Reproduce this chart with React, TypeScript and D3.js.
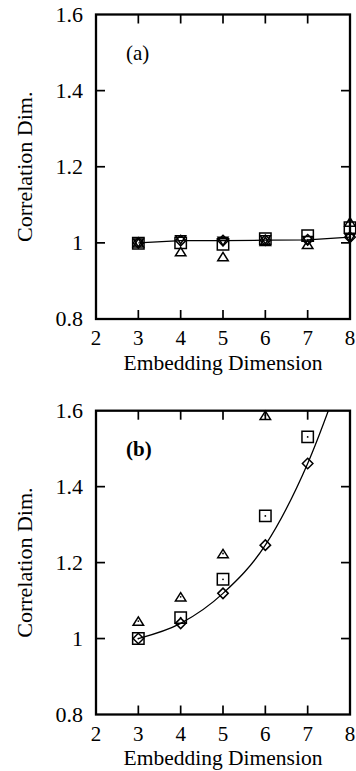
import React from 'react';
import * as d3 from 'd3';

const dims = [3, 4, 5, 6, 7, 8];
const xTickValues = [2, 3, 4, 5, 6, 7, 8];
const yTickValues = [0.8, 1.0, 1.2, 1.4, 1.6];
const yTickLabels = ['0.8', '1', '1.2', '1.4', '1.6'];

// Panel (a)
const aDiamond = [1.0, 1.006, 1.006, 1.007, 1.008, 1.015];
const aSquare = [0.999, 1.0, 0.996, 1.011, 1.019, 1.04];
const aTriUp = [1.0, 0.977, 0.964, 1.004, 0.996, 1.055];
const aTriDown = [1.0, 1.008, 1.004, 1.008, 1.006, 1.012];

// Panel (b)
const bDiamond = [1.0, 1.04, 1.119, 1.246, 1.461, 1.76];
const bSquare = [1.0, 1.055, 1.156, 1.323, 1.531, null];
const bTriUp = [1.046, 1.11, 1.224, 1.588, null, null];

const FONT = '"Liberation Serif", "Times New Roman", serif';

const diamondType = {
  draw(ctx: any, size: number) {
    const r = Math.sqrt(size) / 2;
    ctx.moveTo(0, -r); ctx.lineTo(r, 0); ctx.lineTo(0, r); ctx.lineTo(-r, 0); ctx.closePath();
  },
};
const squareType = {
  draw(ctx: any, size: number) {
    const r = Math.sqrt(size) / 2;
    ctx.rect(-r, -r, 2 * r, 2 * r);
  },
};
const triUpType = {
  draw(ctx: any, size: number) {
    const r = Math.sqrt(size) / 2;
    ctx.moveTo(0, -0.8 * r); ctx.lineTo(r, 0.8 * r); ctx.lineTo(-r, 0.8 * r); ctx.closePath();
  },
};
const triDownType = {
  draw(ctx: any, size: number) {
    const r = Math.sqrt(size) / 2;
    ctx.moveTo(0, 0.8 * r); ctx.lineTo(r, -0.8 * r); ctx.lineTo(-r, -0.8 * r); ctx.closePath();
  },
};

type Series = { values: (number | null)[]; type: any; size: number; dot?: boolean };

function Panel({ id, top, bottom, label, bold, line, curve, series }: {
  id: string; top: number; bottom: number; label: string; bold: boolean;
  line: number[]; curve: any; series: Series[];
}) {
  const x = d3.scaleLinear().domain([2, 8]).range([96, 350]);
  const y = d3.scaleLinear().domain([0.8, 1.6]).range([bottom, top]);
  const lineGen = d3.line<number>()
    .x((_, i) => x(dims[i]))
    .y((d) => y(d))
    .curve(curve);
  const tickLen = 9;
  const innerX = xTickValues.slice(1, -1);
  const innerY = yTickValues.slice(1, -1);
  return (
    <g>
      <defs>
        <clipPath id={id}>
          <rect x={x(2)} y={y(1.6)} width={x(8) - x(2)} height={y(0.8) - y(1.6)} />
        </clipPath>
      </defs>
      {innerX.map((t) => (
        <g key={'xt' + t} stroke="#000" strokeWidth={1.7}>
          <line x1={x(t)} x2={x(t)} y1={y(0.8)} y2={y(0.8) - tickLen} />
          <line x1={x(t)} x2={x(t)} y1={y(1.6)} y2={y(1.6) + tickLen} />
        </g>
      ))}
      {innerY.map((t) => (
        <g key={'yt' + t} stroke="#000" strokeWidth={1.7}>
          <line x1={x(2)} x2={x(2) + tickLen} y1={y(t)} y2={y(t)} />
          <line x1={x(8)} x2={x(8) - tickLen} y1={y(t)} y2={y(t)} />
        </g>
      ))}
      <path d={lineGen(line) || ''} fill="none" stroke="#000" strokeWidth={1.3} clipPath={`url(#${id})`} />
      {series.map((s, si) => {
        const gen = d3.symbol().type(s.type).size(s.size);
        return (
          <g key={'s' + si}>
            {s.values.map((v, i) => {
              if (v === null || v > 1.6 || v < 0.8) return null;
              return (
                <g key={i} transform={`translate(${x(dims[i])},${y(v)})`}>
                  <path d={gen() || ''} fill="none" stroke="#000" strokeWidth={1.5} />
                  {s.dot ? <circle r={0.9} fill="#000" /> : null}
                </g>
              );
            })}
          </g>
        );
      })}
      <rect x={x(2)} y={y(1.6)} width={x(8) - x(2)} height={y(0.8) - y(1.6)} fill="none" stroke="#000" strokeWidth={2.3} />
      {xTickValues.map((t) => (
        <text key={'xl' + t} x={x(t)} y={y(0.8) + 26} textAnchor="middle" fontFamily={FONT} fontSize={21}>{t}</text>
      ))}
      {yTickValues.map((t, i) => (
        <text key={'yl' + t} x={83} y={y(t)} dy="0.34em" textAnchor="end" fontFamily={FONT} fontSize={22}>{yTickLabels[i]}</text>
      ))}
      <text x={(x(2) + x(8)) / 2} y={y(0.8) + 50.5} textAnchor="middle" fontFamily={FONT} fontSize={21.5}>Embedding Dimension</text>
      <text transform={`translate(32,${(y(0.8) + y(1.6)) / 2}) rotate(-90)`} textAnchor="middle" fontFamily={FONT} fontSize={22}>Correlation Dim.</text>
      <text x={126} y={y(1.6) + 45} fontFamily={FONT} fontSize={21} fontWeight={bold ? 'bold' : 'normal'}>{label}</text>
    </g>
  );
}

export default function App() {
  return (
    <svg width={356} height={771} style={{ position: 'absolute', left: 0, top: 0, background: '#fff' }}>
      <rect x={0} y={0} width={356} height={771} fill="#fff" />
      <Panel
        id="clipA" top={14.5} bottom={319} label="(a)" bold={false}
        line={aDiamond} curve={d3.curveLinear}
        series={[
          { values: aTriDown, type: triDownType, size: 100 },
          { values: aTriUp, type: triUpType, size: 110 },
          { values: aSquare, type: squareType, size: 130 },
          { values: aDiamond, type: diamondType, size: 110 },
        ]}
      />
      <Panel
        id="clipB" top={410.7} bottom={714.5} label="(b)" bold={true}
        line={bDiamond} curve={d3.curveMonotoneX}
        series={[
          { values: bTriUp, type: triUpType, size: 110, dot: true },
          { values: bSquare, type: squareType, size: 130, dot: true },
          { values: bDiamond, type: diamondType, size: 110 },
        ]}
      />
    </svg>
  );
}
